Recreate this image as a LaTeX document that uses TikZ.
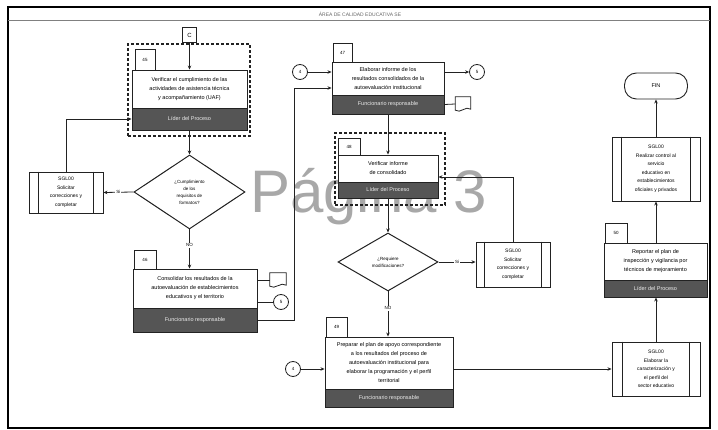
\documentclass[tikz,border=0pt]{standalone}
\usepackage{fontspec}
\setmainfont{Liberation Sans}
\usetikzlibrary{shapes.geometric,arrows.meta,calc}
\definecolor{barc}{HTML}{555555}
\definecolor{linec}{HTML}{222222}
\definecolor{wmc}{HTML}{A8A8A8}
\begin{document}
\begin{tikzpicture}[x=1pt,y=-1pt,
  box/.style={draw=linec, line width=0.9pt, fill=white, inner sep=1pt, align=center, font=\fontsize{5.5}{9}\selectfont},
  bar/.style={draw=linec, line width=0.9pt, fill=barc, text=white!85!gray, inner sep=0pt, font=\fontsize{5.5}{7}\selectfont},
  tab/.style={draw=linec, line width=0.9pt, fill=white, inner sep=0pt, font=\fontsize{4.5}{5}\selectfont},
  sub/.style={draw=linec, line width=0.9pt, fill=white, inner sep=0pt, align=center, font=\fontsize{5}{8.5}\selectfont},
  dec/.style={diamond, draw=linec, line width=1pt, fill=white, inner sep=0pt, align=center, font=\fontsize{4.5}{7}\selectfont},
  grp/.style={draw=linec, dash pattern=on 3pt off 2pt, line width=1.4pt},
  conn/.style={circle, draw=linec, line width=0.8pt, fill=white, minimum size=15pt, inner sep=0pt, font=\fontsize{4.5}{5}\selectfont},
  docu/.style={inner sep=0pt, minimum width=16pt, minimum height=14pt},
  arr/.style={-{Stealth[length=4pt,width=3.5pt]}, line width=0.8pt, draw=linec},
  ln/.style={line width=0.8pt, draw=linec},
  lab/.style={fill=white, inner sep=1pt, font=\fontsize{4.5}{5}\selectfont},
  term/.style={draw=linec, line width=0.9pt, fill=white, rounded corners=12pt, inner sep=0pt, font=\fontsize{5.5}{6}\selectfont},
  offp/.style={draw=linec, line width=1.3pt, fill=white, minimum width=14pt, minimum height=15pt, inner sep=0pt, font=\fontsize{6}{7}\selectfont}
]
\useasboundingbox (0,0) rectangle (718,430);
% page frame
\draw[line width=1.2pt] (8,7) rectangle (710,428);
\draw[line width=0.6pt, gray] (8,20) -- (710,20);
\node[font=\fontsize{5}{6}\selectfont, text=gray!80!black] (hdr) at (360,14) {ÁREA DE CALIDAD EDUCATIVA SE};
% watermark
\node[anchor=base west, inner sep=0pt, font=\fontsize{60}{60}\selectfont, text=wmc] (wm) at (250,213) {Página 3};

% ---- group 1 (45)
\node[grp, minimum width=122pt, minimum height=92pt] (g1) at (189,90) {};
\node[tab, minimum width=20pt, minimum height=21pt] (t45) at (145,59.5) {45};
\node[box, minimum width=115pt, minimum height=38pt] (b45) at (189.5,89) {Verificar el cumplimiento de las\\actividades de asistencia técnica\\y acompañamiento (UAF)};
\node[bar, minimum width=115pt, minimum height=22pt] (r45) at (189.5,119) {Líder del Proceso};
\node[offp] (cc) at (189.5,35) {C};
\draw[arr] (cc.south) -- (b45.north);

% subprocess 1
\node[sub, minimum width=74pt, minimum height=41pt] (s1) at (66,192.5) {SGL00\\Solicitar\\correcciones y\\completar};
\draw[ln] ($(s1.north west)+(10,0)$) -- ($(s1.south west)+(10,0)$);
\draw[ln] ($(s1.north east)+(-10,0)$) -- ($(s1.south east)+(-10,0)$);
\draw[arr] (s1.north) |- (r45.west);

% decision 1
\node[dec, minimum width=111pt, minimum height=74pt] (d1) at (189.5,192) {¿Cumplimiento\\de los\\requisitos de\\formatos?};
\draw[arr] (r45.south) -- (d1.north);
\draw[arr] (d1.west) -- node[lab] {Si} (s1.east);

% ---- box 46
\node[tab, minimum width=22pt, minimum height=19pt] (t46) at (145,259.5) {46};
\node[box, minimum width=124pt, minimum height=39pt] (b46) at (195,288.5) {Consolidar los resultados de la\\autoevaluación de establecimientos\\educativos y el territorio};
\node[bar, minimum width=124pt, minimum height=24pt] (r46) at (195,320) {Funcionario responsable};
\draw[arr] (d1.south) -- node[lab, pos=0.4] {NO} (d1.south |- b46.north);
\node[docu] (doc46) at (278,280) {};
\draw[ln, fill=white] (doc46.north west) -- (doc46.north east) -- ($(doc46.south east)+(0,-2)$) .. controls +(-5,-4) and +(5,4) .. ($(doc46.south west)+(0,-1)$) -- cycle;
\draw[ln] (b46.east |- doc46.west) -- (doc46.west);
\node[conn] (c46) at (281,302) {5};
\draw[ln] (b46.east |- c46.west) -- (c46.west);
\coordinate (k1) at (294,320);
\coordinate (k2) at (294,88);

% ---- box 47
\node[tab, minimum width=19pt, minimum height=19pt] (t47) at (342.5,52.5) {47};
\node[box, minimum width=112pt, minimum height=33pt] (b47) at (388,78.5) {Elaborar informe de los\\resultados consolidados de la\\autoevaluación institucional};
\node[bar, minimum width=112pt, minimum height=19pt] (r47) at (388,104.5) {Funcionario responsable};
\draw[arr] (r46.east) -- (k1) -- (k2) -- (b47.west |- k2);
\node[conn] (c47a) at (300,72) {4};
\draw[arr] (c47a.east) -- (b47.west |- c47a.east);
\node[conn] (c47b) at (477,72) {5};
\draw[arr] (b47.east |- c47b.west) -- (c47b.west);
\node[docu, minimum width=15pt] (doc47) at (463,104) {};
\draw[ln, fill=white] (doc47.north west) -- (doc47.north east) -- ($(doc47.south east)+(0,-2)$) .. controls +(-5,-4) and +(5,4) .. ($(doc47.south west)+(0,-1)$) -- cycle;
\draw[ln] (r47.east) -- (doc47.west);

% ---- group 2 (48)
\node[grp, minimum width=110pt, minimum height=72pt] (g2) at (390,169) {};
\node[tab, minimum width=22pt, minimum height=17pt] (t48) at (349,146.5) {48};
\node[box, minimum width=100pt, minimum height=27pt] (b48) at (388,168.5) {Verificar informe\\de consolidado};
\node[bar, minimum width=100pt, minimum height=16pt] (r48) at (388,190) {Líder del Proceso};
\draw[arr] (r47.south) -- (b48.north);

% decision 2
\node[dec, minimum width=100pt, minimum height=58pt] (d2) at (388,262) {¿Requiere\\modificaciones?};
\draw[arr] (r48.south) -- (d2.north);
\node[sub, minimum width=74pt, minimum height=45pt] (s2) at (513,264.5) {SGL00\\Solicitar\\correcciones y\\completar};
\draw[ln] ($(s2.north west)+(9,0)$) -- ($(s2.south west)+(9,0)$);
\draw[ln] ($(s2.north east)+(-9,0)$) -- ($(s2.south east)+(-9,0)$);
\draw[arr] (d2.east) -- node[lab] {Si} (s2.west |- d2.east);
\coordinate (k3) at (513,177);
\draw[arr] (s2.north) -- (k3) -- (b48.east |- k3);

% ---- box 49
\node[tab, minimum width=21pt, minimum height=20pt] (t49) at (336.5,327) {49};
\node[box, minimum width=128pt, minimum height=52pt] (b49) at (389,363) {Preparar el plan de apoyo correspondiente\\a los resultados del proceso de\\autoevaluación institucional para\\elaborar la programación y el perfil\\territorial};
\node[bar, minimum width=128pt, minimum height=18pt] (r49) at (389,398) {Funcionario responsable};
\draw[arr] (d2.south) -- node[lab, pos=0.37] {NO} (d2.south |- b49.north);

% subprocess 3
\node[sub, minimum width=88pt, minimum height=54pt] (s3) at (656,369) {SGL00\\Elaborar la\\caracterización y\\el perfil del\\sector educativo};
\draw[ln] ($(s3.north west)+(11,0)$) -- ($(s3.south west)+(11,0)$);
\draw[ln] ($(s3.north east)+(-11,0)$) -- ($(s3.south east)+(-11,0)$);
\node[conn] (c49) at (293,369) {4};
\draw[arr] (c49.east) -- (b49.west |- c49.east);
\draw[arr] (b49.east |- s3.west) -- (s3.west);

% ---- box 50
\node[tab, minimum width=22pt, minimum height=20pt] (t50) at (616,233) {50};
\node[box, minimum width=103pt, minimum height=37pt] (b50) at (655.5,261.5) {Reportar el plan de\\inspección y vigilancia por\\técnicos de mejoramiento};
\node[bar, minimum width=103pt, minimum height=17pt] (r50) at (655.5,288.5) {Líder del Proceso};
\draw[arr] (s3.north) -- (s3.north |- r50.south);

% subprocess 4
\node[sub, minimum width=88pt, minimum height=64pt] (s4) at (656,169) {SGL00\\Realizar control al\\servicio\\educativo en\\establecimientos\\oficiales y privados};
\draw[ln] ($(s4.north west)+(10,0)$) -- ($(s4.south west)+(10,0)$);
\draw[ln] ($(s4.north east)+(-10,0)$) -- ($(s4.south east)+(-10,0)$);
\draw[arr] (s4.south |- b50.north) -- (s4.south);

% FIN
\node[term, minimum width=63pt, minimum height=26pt] (fin) at (656,86) {FIN};
\draw[arr] (s4.north) -- (fin.south);
\end{tikzpicture}
\end{document}
